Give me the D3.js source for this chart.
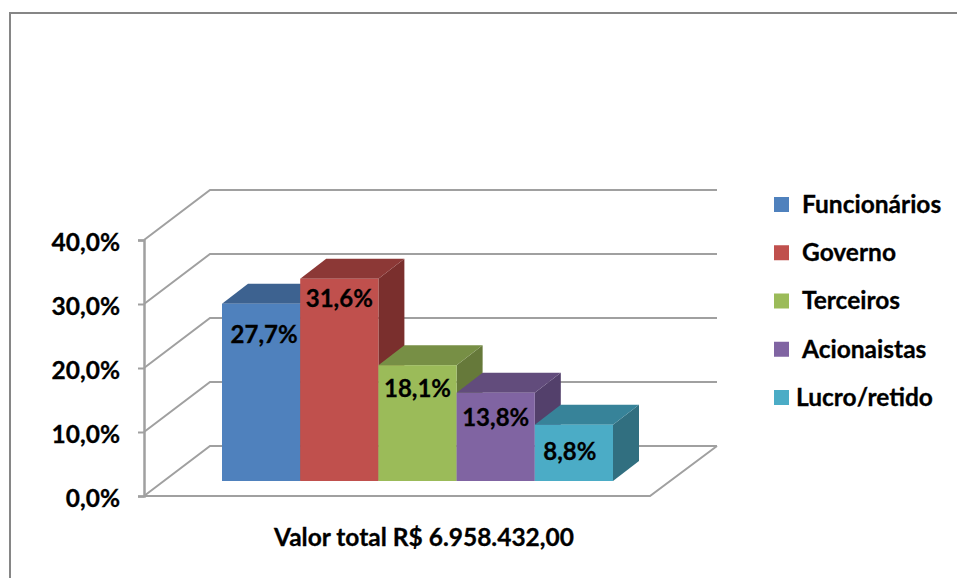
<!DOCTYPE html>
<html>
<head>
<meta charset="utf-8">
<script src="https://cdn.jsdelivr.net/npm/d3@7"></script>
<style>
    html, body { margin: 0; padding: 0; background: #fff; overflow: hidden; }
    text { font-family: Lato, "Open Sans", sans-serif; font-weight: 700; fill: #000; stroke: #000; stroke-width: 0.3; }
</style>
</head>
<body>
<div id="chart"></div>
<script>
// Faux 3D column chart - share of total value
const categories = ["Funcionários", "Governo", "Terceiros", "Acionaistas", "Lucro/retido"];
const values = [27.7, 31.6, 18.1, 13.8, 8.8];
const yTicks = [0, 10, 20, 30, 40];
const totalLabel = "Valor total R$ 6.958.432,00";

const frontColors = ["#4f81bd", "#c0504d", "#9bbb59", "#8064a2", "#4bacc6"];
const topColors = ["#3d6290", "#8c3836", "#778f45", "#624c7c", "#378399"];
const sideColors = ["#335378", "#7a2f2d", "#66793a", "#53406b", "#316f80"];

const width = 957, height = 578;
const gridColor = "#a0a0a0";
const fontSize = 24.5;

// wall depth and bar depth, in screen px
const wall = { dx: 66, dy: -50 };
const depth = { dx: 26, dy: -20 };
const floorRight = 650;
const barBaseShift = 15; // bars stand this far up the floor

const y = d3.scaleLinear().domain([0, 40]).range([496, 240]);
const x = d3.scaleBand().domain(categories).range([222, 613]);
const pct = d3.formatLocale({ decimal: ",", thousands: ".", grouping: [3], currency: ["R$", ""] }).format(".1f");

// hand placed in the original: label offset from the bar's top edge
const labelDrop = [33, 22, 26, 27, 29];
const labelShift = [3, 0, 0, 0, -4];

const svg = d3.select("#chart").append("svg")
    .attr("width", width)
    .attr("height", height)
    .style("display", "block");

// outer frame, open at the right and bottom
svg.append("path")
    .attr("d", `M10,${height}V13H${width}`)
    .attr("fill", "none")
    .attr("stroke", "#868686")
    .attr("stroke-width", 2);

// gridlines running from the axis, up the side wall and along the back
const x0 = 144;
svg.selectAll(".grid")
    .data(yTicks)
    .enter()
    .append("path")
    .attr("class", "grid")
    .attr("d", d => `M${x0},${y(d)}L${x0 + wall.dx},${y(d) + wall.dy}H717`)
    .attr("fill", "none")
    .attr("stroke", gridColor)
    .attr("stroke-width", 2);

// floor outline
svg.append("path")
    .attr("d", `M${x0},${y(0)}H${floorRight}L${floorRight + wall.dx + 1},${y(0) + wall.dy}`)
    .attr("fill", "none")
    .attr("stroke", gridColor)
    .attr("stroke-width", 2);

// y axis
const axis = svg.append("g")
    .attr("transform", `translate(${x0},0)`)
    .call(d3.axisLeft(y).tickValues(yTicks).tickSize(6).tickPadding(18).tickFormat(d => pct(d) + "%"));
axis.select(".domain").attr("stroke", gridColor).attr("stroke-width", 2.5);
axis.selectAll(".tick line").attr("stroke", gridColor).attr("stroke-width", 2);
axis.selectAll(".tick text")
    .attr("font-size", fontSize)
    .attr("font-family", null)
    .attr("dy", "0.44em");

// bars, left to right so each front covers the previous side face
const baseY = y(0) - barBaseShift;
const bars = svg.selectAll(".bar")
    .data(categories)
    .enter()
    .append("g")
    .attr("class", "bar");

bars.each(function(name, i) {
    const g = d3.select(this);
    const left = x(name);
    const right = left + x.bandwidth();
    const top = baseY - (y(0) - y(values[i]));

    g.append("path")
        .attr("d", `M${right},${top}L${right + depth.dx},${top + depth.dy}V${baseY + depth.dy}L${right},${baseY}Z`)
        .attr("fill", sideColors[i]);
    g.append("path")
        .attr("d", `M${left},${top}L${left + depth.dx},${top + depth.dy}H${right + depth.dx}L${right},${top}Z`)
        .attr("fill", topColors[i]);
    g.append("rect")
        .attr("x", left)
        .attr("y", top)
        .attr("width", x.bandwidth())
        .attr("height", baseY - top)
        .attr("fill", frontColors[i]);
});

// value labels on top of all bars
svg.selectAll(".value-label")
    .data(categories)
    .enter()
    .append("text")
    .attr("class", "value-label")
    .attr("x", (d, i) => x(d) + x.bandwidth() / 2 + labelShift[i])
    .attr("y", (d, i) => baseY - (y(0) - y(values[i])) + labelDrop[i])
    .attr("text-anchor", "middle")
    .attr("dominant-baseline", "middle")
    .attr("font-size", 24)
    .text((d, i) => pct(values[i]) + "%");

// legend
const legend = d3.scalePoint().domain(categories).range([204.5, 397.5]);

svg.selectAll(".swatch")
    .data(categories)
    .enter()
    .append("rect")
    .attr("class", "swatch")
    .attr("x", 774)
    .attr("y", d => legend(d) - 7.5)
    .attr("width", 15)
    .attr("height", 15)
    .attr("fill", (d, i) => frontColors[i]);

svg.selectAll(".legend-label")
    .data(categories)
    .enter()
    .append("text")
    .attr("class", "legend-label")
    .attr("x", (d, i) => i === 4 ? 796 : 802)
    .attr("y", d => legend(d) + 2)
    .attr("dominant-baseline", "middle")
    .attr("font-size", fontSize)
    .text(d => d);

// category axis title
svg.append("text")
    .attr("x", 424)
    .attr("y", 540)
    .attr("text-anchor", "middle")
    .attr("dominant-baseline", "middle")
    .attr("font-size", fontSize)
    .text(totalLabel);
</script>
</body>
</html>
